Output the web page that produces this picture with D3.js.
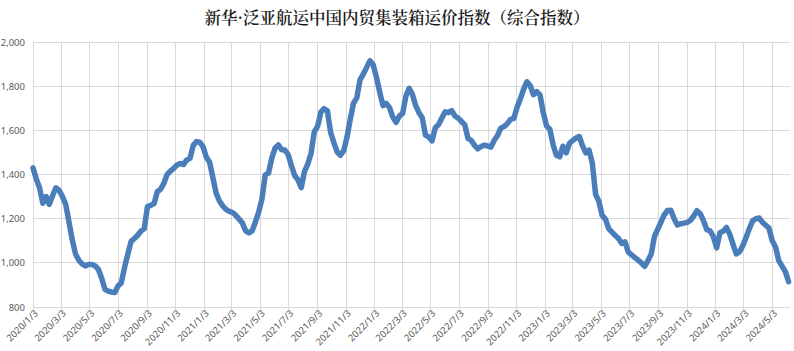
<!DOCTYPE html>
<html><head><meta charset="utf-8">
<script src="https://cdn.jsdelivr.net/npm/d3@7"></script>
<style>
html,body{margin:0;padding:0;background:#fff;}
svg{display:block;}
</style></head>
<body>
<script>
const title = "新华·泛亚航运中国内贸集装箱运价指数（综合指数）";
const startDate = "2020-01-03";
const endDate = "2024-06-07";
const values = [
1430,1380,1340,1270,1300,1265,1305,1340,1328,1300,
1265,1185,1105,1040,1012,995,986,993,993,986,
970,930,880,872,868,866,895,910,980,1040,
1097,1110,1125,1144,1154,1255,1260,1268,1322,1333,
1360,1400,1415,1428,1443,1450,1445,1466,1473,1532,
1549,1546,1525,1478,1455,1385,1315,1280,1258,1242,
1233,1228,1215,1198,1181,1145,1136,1145,1185,1230,
1290,1398,1406,1474,1519,1534,1512,1511,1490,1440,
1395,1376,1340,1413,1447,1495,1594,1617,1682,1698,
1688,1590,1543,1502,1487,1508,1570,1650,1724,1747,
1830,1855,1885,1915,1897,1840,1773,1712,1722,1703,
1660,1636,1665,1676,1755,1790,1762,1712,1680,1657,
1578,1570,1552,1612,1626,1656,1684,1680,1689,1665,
1655,1640,1625,1563,1554,1532,1516,1527,1533,1529,
1524,1555,1576,1610,1617,1630,1650,1654,1705,1742,
1787,1820,1803,1762,1775,1760,1680,1620,1605,1535,
1487,1480,1528,1498,1541,1554,1565,1572,1530,1498,
1510,1450,1310,1278,1215,1198,1155,1139,1124,1110,
1088,1095,1048,1036,1024,1012,999,984,1010,1040,
1120,1153,1185,1218,1237,1238,1200,1171,1177,1180,
1183,1193,1212,1236,1222,1190,1150,1145,1118,1068,
1136,1143,1160,1130,1085,1040,1050,1078,1115,1155,
1190,1200,1203,1184,1170,1157,1100,1072,1010,985,
960,915
];
const yTicks = [800,1000,1200,1400,1600,1800,2000];
const xTickLabels = ["2020/1/3","2020/3/3","2020/5/3","2020/7/3","2020/9/3","2020/11/3",
"2021/1/3","2021/3/3","2021/5/3","2021/7/3","2021/9/3","2021/11/3",
"2022/1/3","2022/3/3","2022/5/3","2022/7/3","2022/9/3","2022/11/3",
"2023/1/3","2023/3/3","2023/5/3","2023/7/3","2023/9/3","2023/11/3",
"2024/1/3","2024/3/3","2024/5/3"];

const W = 794, H = 351;
const parse = d3.timeParse("%Y-%m-%d");
const parseTick = d3.timeParse("%Y/%m/%d");
const d0 = parse(startDate);
const data = values.map((v,i)=>({date:d3.timeDay.offset(d0, i*7), value:v}));

const svg = d3.select("body").append("svg").attr("width",W).attr("height",H);

const x = d3.scaleTime().domain([d0, parse(endDate)]).range([33, 788.6]);
const y = d3.scaleLinear().domain([800,2000]).range([307, 42]);
const xRight = 790;

svg.append("text").attr("x", 397).attr("y", 24).attr("text-anchor","middle")
  .attr("font-family","'Noto Serif CJK SC','Noto Sans CJK SC',sans-serif")
  .attr("font-size",16.5).attr("font-weight",600).attr("fill","#1a1a1a").text(title);

// horizontal grid
svg.append("g").selectAll("line").data(yTicks).join("line")
  .attr("x1",33).attr("x2",xRight).attr("y1",d=>y(d)).attr("y2",d=>y(d))
  .attr("stroke","#d9d9d9").attr("stroke-width",1).attr("shape-rendering","crispEdges");

const tickDates = xTickLabels.map(s=>parseTick(s));
// vertical grid
svg.append("g").selectAll("line").data(tickDates).join("line")
  .attr("x1",d=>x(d)).attr("x2",d=>x(d)).attr("y1",y(2000)).attr("y2",y(800)+4)
  .attr("stroke","#d9d9d9").attr("stroke-width",1).attr("shape-rendering","crispEdges");

// y labels
const yAxis = d3.axisLeft(y).tickValues(yTicks).tickSize(0).tickPadding(0).tickFormat(d3.format(","));
const gy = svg.append("g").attr("transform","translate(25,0)").call(yAxis);
gy.select(".domain").remove();
gy.selectAll("text").attr("font-family","'Noto Sans',sans-serif").attr("font-size",9.5).attr("fill","#595959");

// x labels
const xAxis = d3.axisBottom(x).tickValues(tickDates).tickSize(0).tickPadding(0)
  .tickFormat((d,i)=>xTickLabels[i]);
const gx = svg.append("g").attr("transform",`translate(0,${y(800)})`).call(xAxis);
gx.select(".domain").remove();
gx.selectAll("text").attr("font-family","'Noto Sans',sans-serif").attr("font-size",9.5).attr("fill","#595959")
  .attr("text-anchor","end").attr("dy",0).attr("y",0)
  .attr("transform","translate(5,7) rotate(-45)");

// line
const line = d3.line().x(d=>x(d.date)).y(d=>y(d.value)).curve(d3.curveLinear);
svg.append("path").datum(data).attr("d",line).attr("fill","none")
  .attr("stroke","#4a7ebb").attr("stroke-width",5.5)
  .attr("stroke-linejoin","round").attr("stroke-linecap","round");
</script>
</body></html>
